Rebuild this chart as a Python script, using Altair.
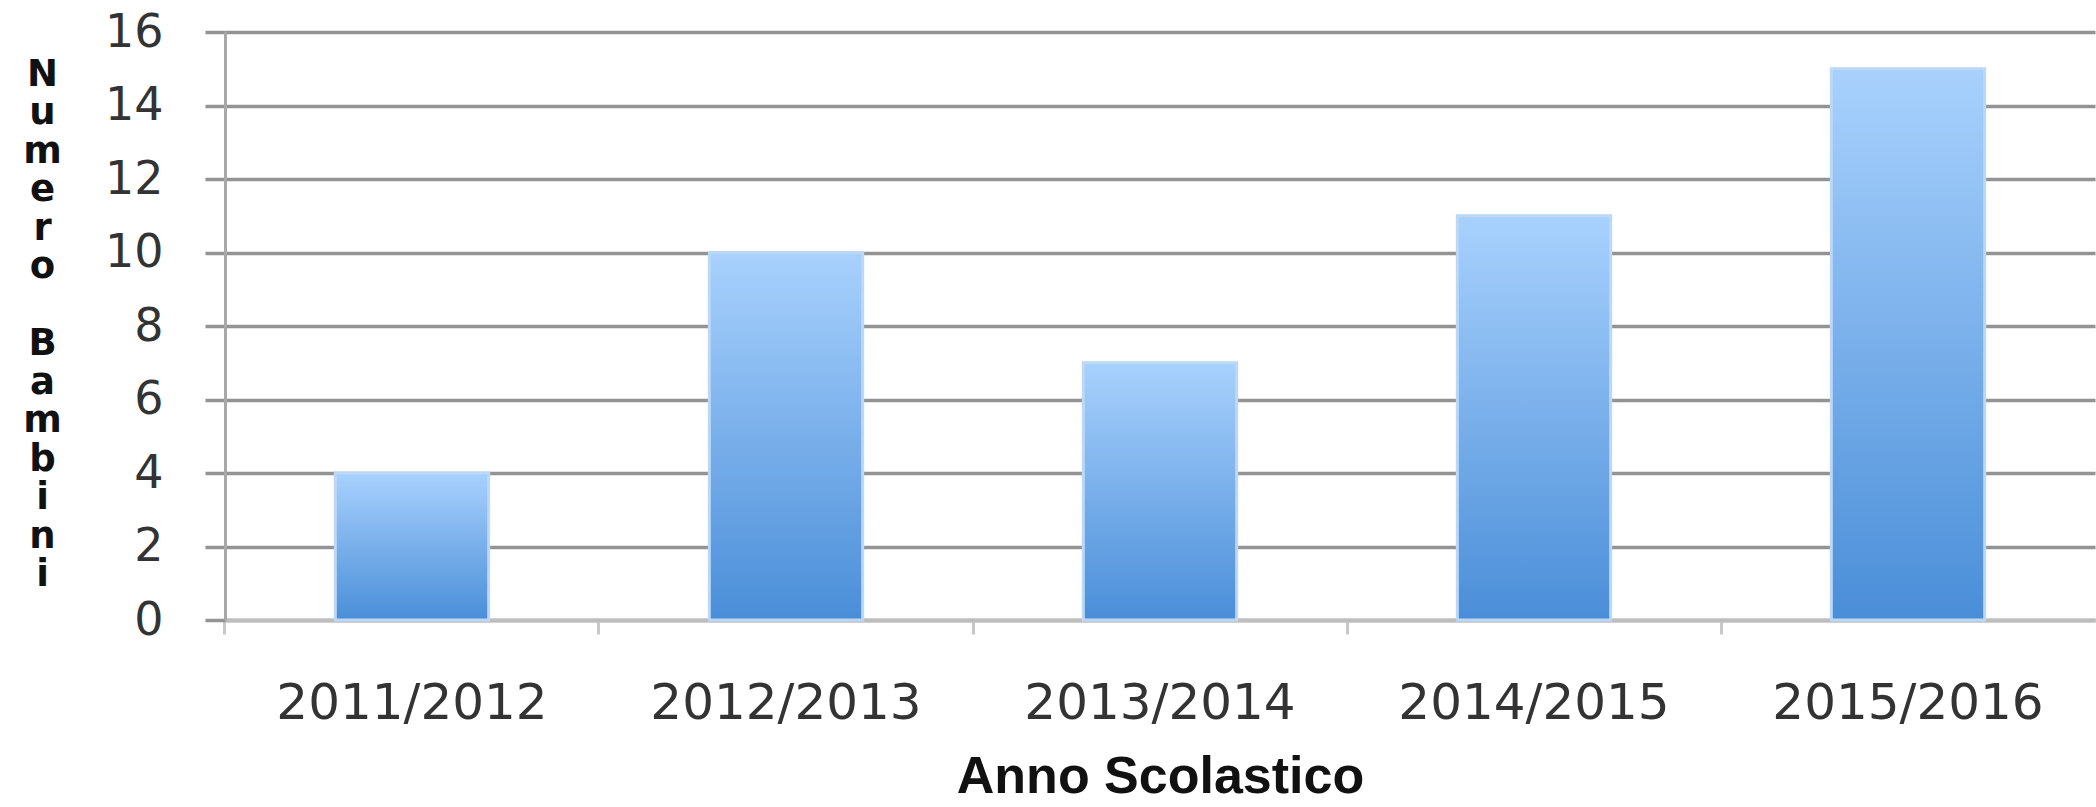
import altair as alt
import pandas as pd

anni = ["2011/2012", "2012/2013", "2013/2014", "2014/2015", "2015/2016"]
bambini = [4, 10, 7, 11, 15]
y_ticks = [0, 2, 4, 6, 8, 10, 12, 14, 16]
y_title = list("Numero") + ["\u200b"] + list("Bambini")

df = pd.DataFrame({"Anno": anni, "Bambini": bambini})

gradient = alt.Gradient(
    gradient="linear",
    stops=[alt.GradientStop(color="#a8d1fd", offset=0),
           alt.GradientStop(color="#4a8ed8", offset=1)],
    x1=0, x2=0, y1=0, y2=1,
)

pad_inner = 0.59

chart = alt.Chart(df).mark_bar(color=gradient, stroke="#bcd8f6", strokeWidth=3).encode(
    x=alt.X(
        "Anno:N", sort=anni,
        scale=alt.Scale(paddingInner=pad_inner, paddingOuter=pad_inner / 2),
        axis=alt.Axis(
            title="Anno Scolastico", labelAngle=0, labelFont="DejaVu Sans",
            labelFontSize=50, labelColor="#333333", labelLimit=0,
            bandPosition=-(pad_inner / 2) / (1 - pad_inner),
            tickColor="#c8c8c8", tickSize=14, tickWidth=3,
            domainColor="#bdbdbd", domainWidth=4, labelPadding=44,
            titleFont="Liberation Sans", titleFontSize=52, titleFontWeight="bold",
            titleColor="#111111", titleY=172, titleBaseline="alphabetic", grid=False,
        ),
    ),
    y=alt.Y(
        "Bambini:Q", scale=alt.Scale(domain=[0, 16]),
        axis=alt.Axis(
            values=y_ticks, title=y_title, titleAngle=0, titleX=-183, titleY=24,
            titleAlign="center", titleBaseline="top", titleLineHeight=38.5,
            titleFont="DejaVu Sans", titleFontSize=37, titleFontWeight="bold",
            titleColor="#111111",
            gridColor="#939393", gridWidth=3.5, domainColor="#a8a8a8", domainWidth=3,
            tickColor="#939393", tickSize=20, tickWidth=3.5,
            labelFont="DejaVu Sans", labelFontSize=46, labelColor="#333333",
            labelPadding=42,
        ),
    ),
).properties(
    width=1870, height=588,
    autosize=alt.AutoSizeParams(type="none"),
    padding={"left": 225, "right": 1, "top": 32, "bottom": 187},
    background="white",
).configure_view(stroke=None)

chart.save("out.html", embed_options={"renderer": "svg", "actions": False})
